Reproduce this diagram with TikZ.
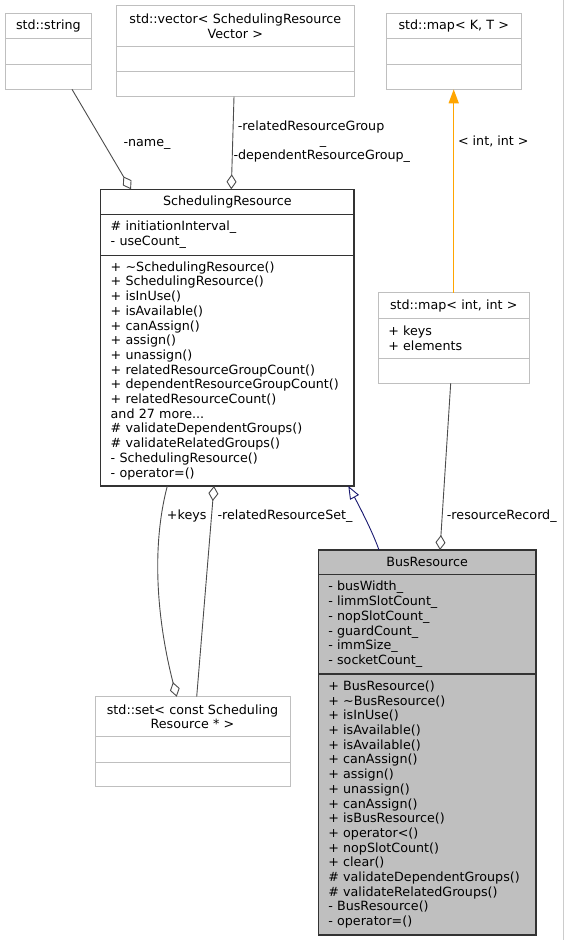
\documentclass[tikz,border=0pt]{standalone}
\usepackage{fontspec}
\setmainfont{DejaVu Sans}
\usetikzlibrary{arrows.meta}
\definecolor{tmplorange}{HTML}{FFA500}
\definecolor{inhblue}{HTML}{191970}
\newcommand\umlfont{\fontsize{12.7}{14.7}\selectfont}

\begin{document}
\begin{tikzpicture}[x=1pt,y=-1pt,
    cls/.style={draw=black!25, line width=0.9pt, anchor=north west, outer sep=0pt,
      inner xsep=10pt, inner ysep=0pt, font=\umlfont, align=left},
    cur/.style={cls, draw=black!80, line width=1.1pt},
    lbl/.style={inner sep=0pt, font=\umlfont, text height=9pt, text depth=3pt},
    member/.style={draw=black!70, line width=0.9pt},
    agg/.style={member, -{Diamond[length=15pt,width=10pt,fill=white]}},
    tmpl/.style={draw=tmplorange, line width=1.4pt, -{Triangle[length=14pt,width=10pt]}},
    inherit/.style={draw=inhblue, line width=0.9pt, -{Triangle[length=13pt,width=10pt,fill=white]}}]
  \useasboundingbox (0,0) rectangle (565,940);
  \draw[black!20] (563.5,0) -- (563.5,940);

  % classes
  \node[cls, text width=66.7pt, minimum height=25.4pt, align=center] (str) at (5,13.3) {std::string};
  \node[cls, text width=66.7pt, minimum height=25.3pt] (stra) at (str.south west) {};
  \node[cls, text width=66.7pt, minimum height=25.3pt] (strm) at (stra.south west) {};

  \node[cls, text width=217.3pt, minimum height=40.6pt, align=center] (vec) at (116.7,5.7)
    {std::vector< SchedulingResource\\Vector >};
  \node[cls, text width=217.3pt, minimum height=25pt] (veca) at (vec.south west) {};
  \node[cls, text width=217.3pt, minimum height=25.4pt] (vecm) at (veca.south west) {};

  \node[cls, text width=114.3pt, minimum height=25.4pt, align=center] (mkt) at (386.7,13.3) {std::map< K, T >};
  \node[cls, text width=114.3pt, minimum height=25.3pt] (mkta) at (mkt.south west) {};
  \node[cls, text width=114.3pt, minimum height=25.3pt] (mktm) at (mkta.south west) {};

  \node[cur, text width=233.3pt, minimum height=25.4pt, align=center] (sr) at (100.7,189.3) {SchedulingResource};
  \node[cur, text width=233.3pt, minimum height=40.6pt] (sra) at (sr.south west)
    {\# initiationInterval\_\\- useCount\_};
  \node[cur, text width=233.3pt, minimum height=230.7pt] (srm) at (sra.south west)
    {+ \textasciitilde SchedulingResource()\\+ SchedulingResource()\\+ isInUse()\\+ isAvailable()\\
     + canAssign()\\+ assign()\\+ unassign()\\+ relatedResourceGroupCount()\\
     + dependentResourceGroupCount()\\+ relatedResourceCount()\\and 27 more...\\
     \# validateDependentGroups()\\\# validateRelatedGroups()\\- SchedulingResource()\\- operator=()};

  \node[cls, text width=131pt, minimum height=25.6pt, align=center] (mii) at (378.3,292.7) {std::map< int, int >};
  \node[cls, text width=131pt, minimum height=40pt] (miia) at (mii.south west) {+ keys\\+ elements};
  \node[cls, text width=131pt, minimum height=25pt] (miim) at (miia.south west) {};

  \node[cur, fill=black!25, text width=197.7pt, minimum height=24.7pt, align=center] (br) at (318.3,550) {BusResource};
  \node[cur, fill=black!25, text width=197.7pt, minimum height=99.3pt] (bra) at (br.south west)
    {- busWidth\_\\- limmSlotCount\_\\- nopSlotCount\_\\- guardCount\_\\- immSize\_\\- socketCount\_};
  \node[cur, fill=black!25, text width=197.7pt, minimum height=261pt] (brm) at (bra.south west)
    {+ BusResource()\\+ \textasciitilde BusResource()\\+ isInUse()\\+ isAvailable()\\+ isAvailable()\\
     + canAssign()\\+ assign()\\+ unassign()\\+ canAssign()\\+ isBusResource()\\+ operator<()\\
     + nopSlotCount()\\+ clear()\\\# validateDependentGroups()\\\# validateRelatedGroups()\\
     - BusResource()\\- operator=()};

  \node[cls, text width=175pt, minimum height=40pt, align=center] (set) at (95,696.7)
    {std::set< const Scheduling\\Resource * >};
  \node[cls, text width=175pt, minimum height=25.3pt] (seta) at (set.south west) {};
  \node[cls, text width=175pt, minimum height=24.7pt] (setm) at (seta.south west) {};

  % edges
  \draw[agg] ([xshift=67pt]strm.south west) -- ([xshift=30.3pt]sr.north west);
  \draw[agg] ([xshift=117.3pt]vecm.south west) -- ([xshift=130.6pt]sr.north west);
  \draw[tmpl] ([xshift=75.4pt]mii.north west) -- ([xshift=67pt]mktm.south west);
  \draw[agg] ([xshift=66.6pt]srm.south west) .. controls (148,560) and (162,640) .. ([xshift=81.7pt]set.north west);
  \draw[agg] ([xshift=101.7pt]set.north west) -- ([xshift=113.3pt]srm.south west);
  \draw[agg] ([xshift=72.4pt]miim.south west) -- ([xshift=121.7pt]br.north west);
  \draw[inherit] ([xshift=60.7pt]br.north west) .. controls (372,530) and (356,500) .. ([xshift=247.6pt]srm.south west);

  % labels
  \node[lbl] (lname) at (147,143) {-name\_};
  \node[lbl, anchor=west] (lrg) at (237.7,127.7) {-relatedResourceGroup};
  \node[lbl] (lrgu) at (323,141.5) {\_};
  \node[lbl, anchor=west] (ldg) at (233.3,156.7) {-dependentResourceGroup\_};
  \node[lbl] (lii) at (493.3,142.7) {< int, int >};
  \node[lbl] (lkeys) at (186.7,516.7) {+keys};
  \node[lbl, anchor=west] (lrs) at (217.3,516.7) {-relatedResourceSet\_};
  \node[lbl, anchor=west] (lrr) at (446.7,516.7) {-resourceRecord\_};
\end{tikzpicture}
\end{document}
